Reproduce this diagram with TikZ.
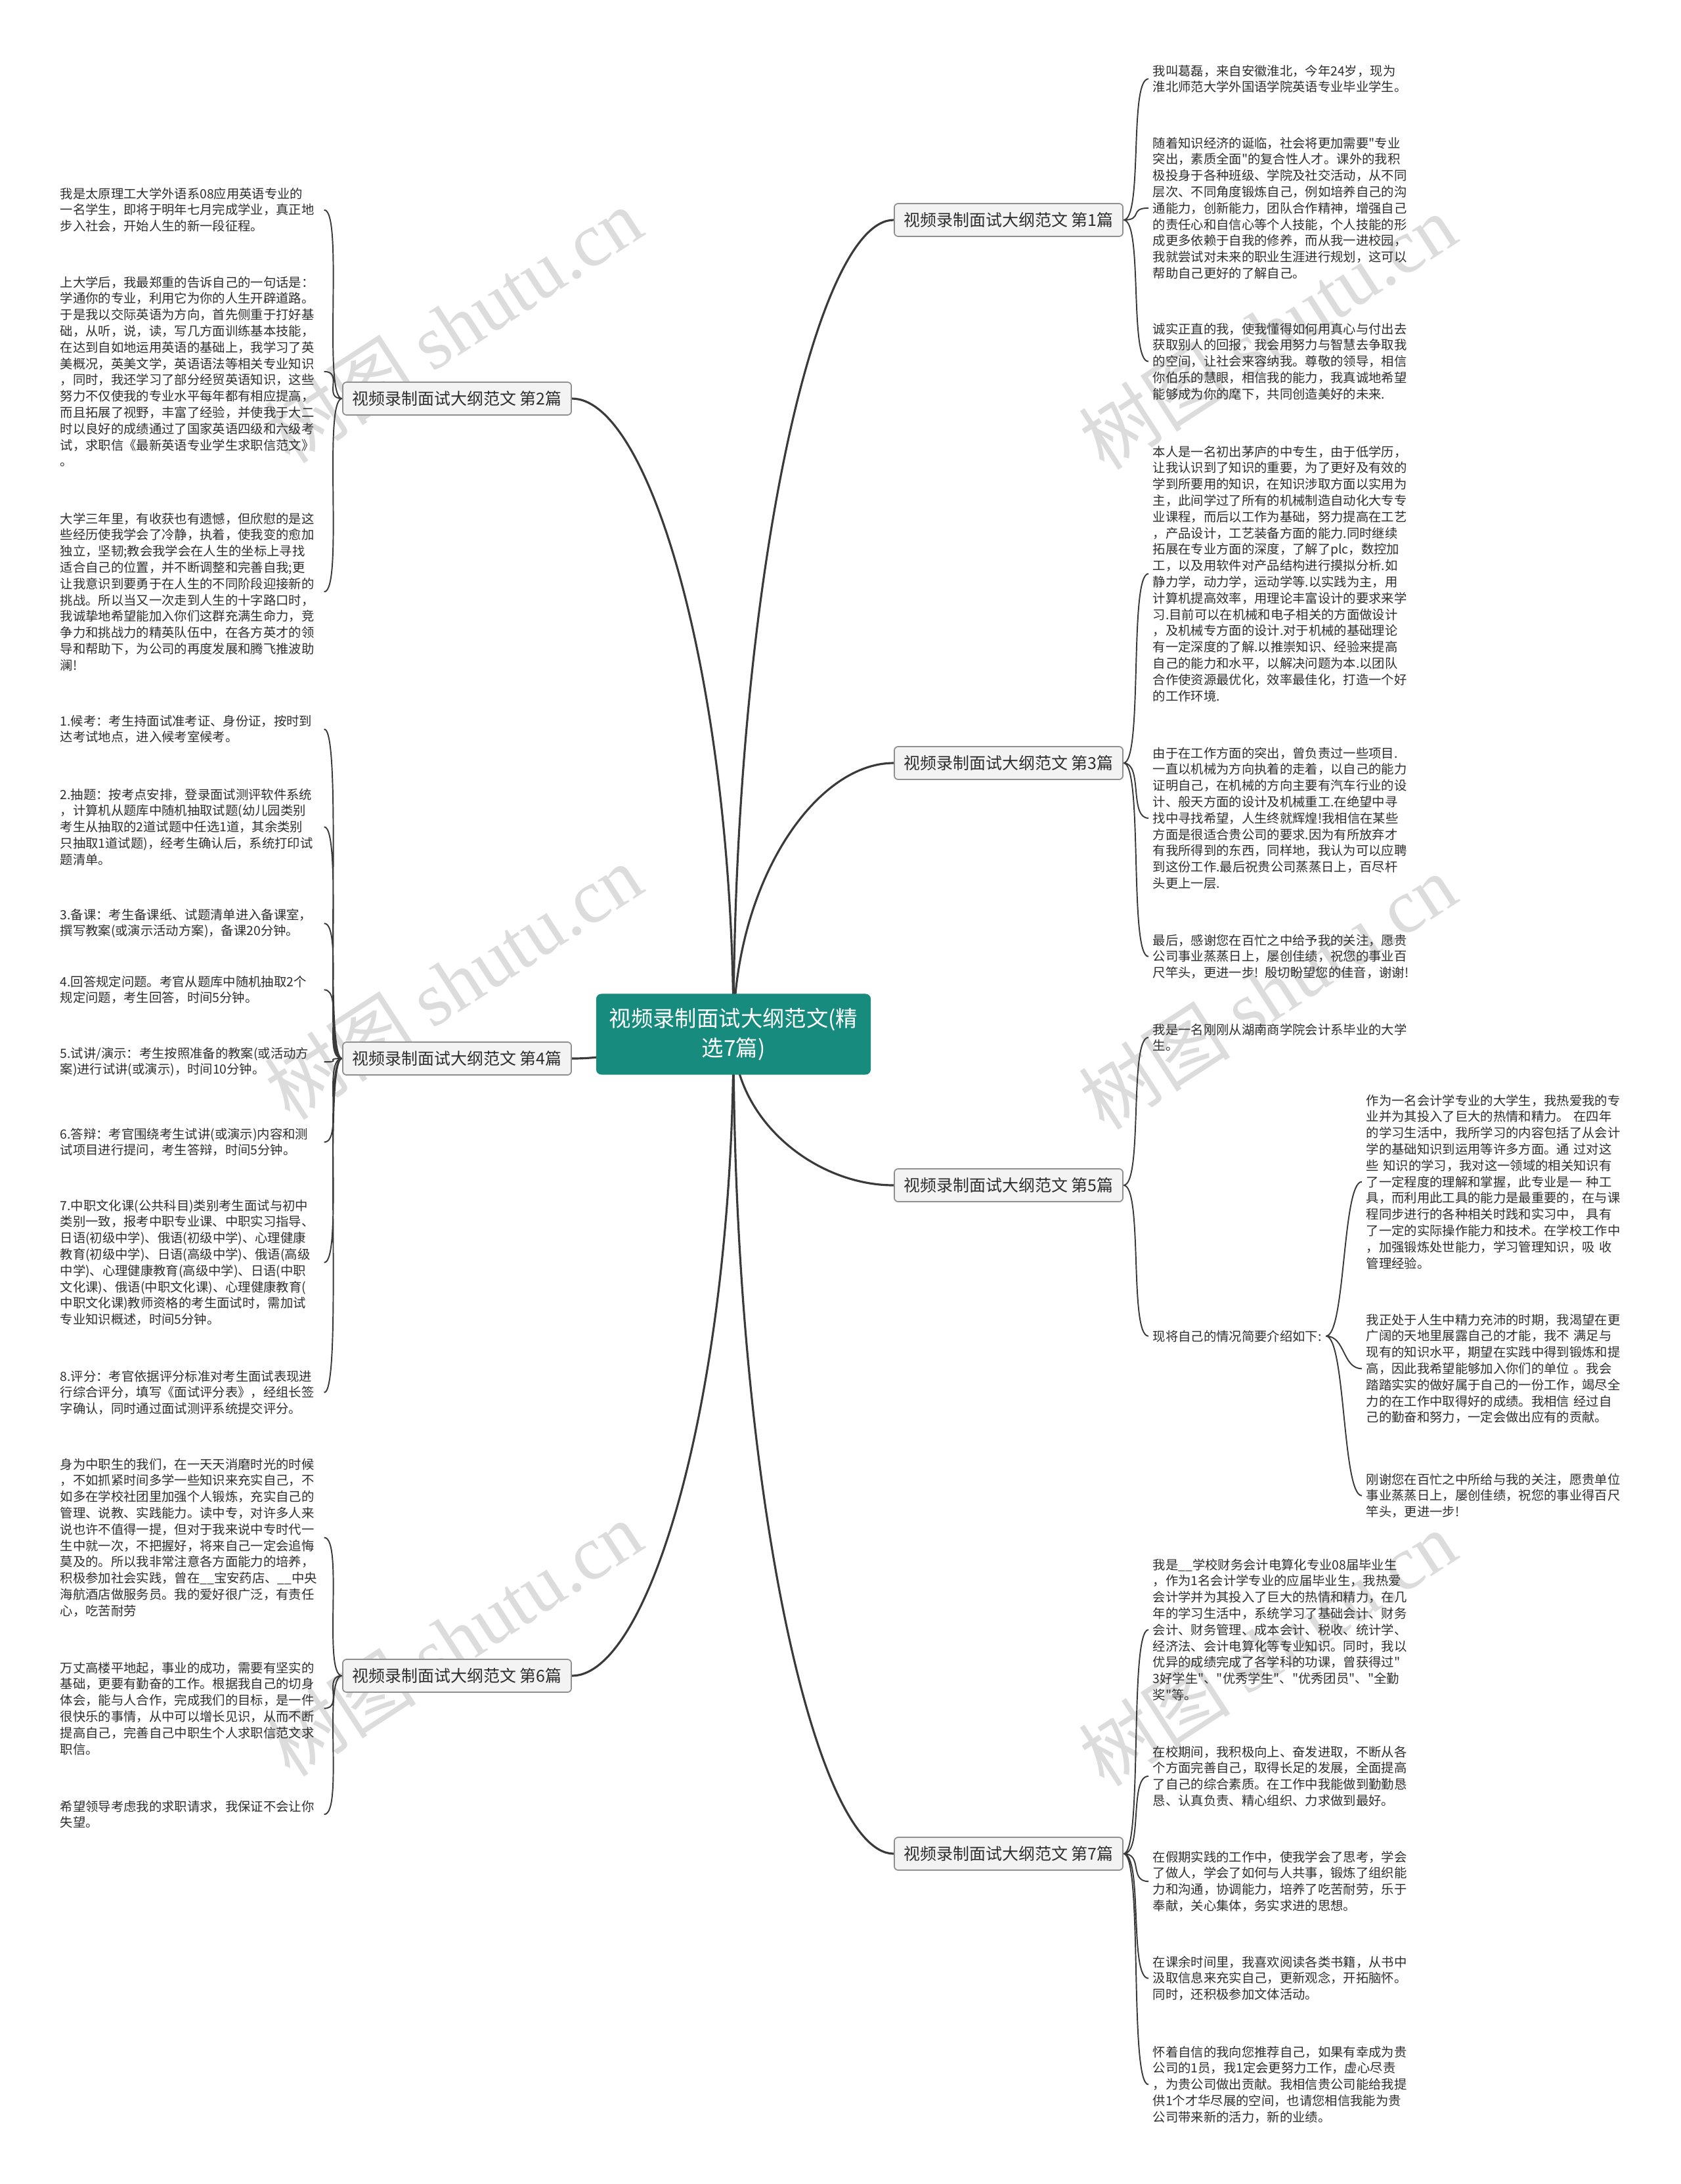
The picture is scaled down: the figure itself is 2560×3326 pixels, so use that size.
\documentclass[tikz,border=0pt]{standalone}
\usepackage{fontspec}
\setmainfont{Noto Sans CJK SC}
\newfontfamily\markfont{Liberation Serif}
\newfontfamily\plainfont{Noto Sans CJK SC}
\usetikzlibrary{backgrounds}
\definecolor{Lagoon}{HTML}{178B7D}
\definecolor{Wire}{HTML}{3A3A3A}
\definecolor{Type}{HTML}{2E2E2E}
\definecolor{Mist}{HTML}{F3F3F3}
\definecolor{Rim}{HTML}{8F8F8F}
\definecolor{Stamp}{HTML}{DCDCDC}
\newcommand\leaffont{\fontsize{5.5pt}{7.05pt}\selectfont}
\newcommand\topicfont{\fontsize{7.1pt}{8.5pt}\selectfont}
\newcommand\rootfont{\fontsize{9.5pt}{12.6pt}\selectfont}
\newcommand\dq{{\plainfont"}}
\tikzset{
  rootbox/.style={fill=Lagoon,draw=none,text=white,rounded corners=0.08cm,font=\rootfont,minimum width=4.18cm,minimum height=1.23cm,align=center,inner sep=2pt},
  topic/.style={draw=Rim,fill=Mist,line width=.5pt,rounded corners=0.06cm,font=\topicfont,text=Type,minimum width=3.48cm,minimum height=0.5cm,inner xsep=0.1cm,inner ysep=1pt},
  leaf/.style={font=\leaffont,text=Type,text width=3.95cm,align=left,inner xsep=0.06cm,inner ysep=0pt,anchor=north west},
  aside/.style={font=\leaffont,text=Type,inner xsep=0.06cm,inner ysep=0pt,anchor=north west},
  trunk/.style={draw=Wire,line width=.9pt},
  twig/.style={draw=Wire,line width=.55pt},
  rtwig/.style={out=0,in=180,distance=0.3cm},
  ltwig/.style={out=180,in=0,distance=0.3cm},
  stamp/.style={text=Stamp,rotate=33,font=\fontsize{33pt}{33pt}\selectfont,inner sep=0pt}
}
\begin{document}
\begin{tikzpicture}[x=0.01cm,y=0.01cm]
\useasboundingbox (0,0) rectangle (2560,-3326);

% root and topics
\node[rootbox] (root) at (1117,-1575) {视频录制面试大纲范文(精\\选7篇)};
\node[topic] (t1) at (1536,-335) {视频录制面试大纲范文 第1篇};
\node[topic] (t2) at (696,-607) {视频录制面试大纲范文 第2篇};
\node[topic] (t3) at (1536,-1162) {视频录制面试大纲范文 第3篇};
\node[topic] (t4) at (696,-1612) {视频录制面试大纲范文 第4篇};
\node[topic] (t5) at (1536,-1805) {视频录制面试大纲范文 第5篇};
\node[topic] (t6) at (696,-2552) {视频录制面试大纲范文 第6篇};
\node[topic] (t7) at (1536,-2823) {视频录制面试大纲范文 第7篇};

% 第1篇
\node[leaf] (s1a) at (1749,-98) {我叫葛磊，来自安徽淮北，今年24岁，现为\\淮北师范大学外国语学院英语专业毕业学生。};
\node[leaf] (s1b) at (1749,-208) {随着知识经济的诞临，社会将更加需要\dq 专业\\突出，素质全面\dq 的复合性人才。课外的我积\\极投身于各种班级、学院及社交活动，从不同\\层次、不同角度锻炼自己，例如培养自己的沟\\通能力，创新能力，团队合作精神，增强自己\\的责任心和自信心等个人技能，个人技能的形\\成更多依赖于自我的修养，而从我一进校园，\\我就尝试对未来的职业生涯进行规划，这可以\\帮助自己更好的了解自己。};
\node[leaf] (s1c) at (1749,-491) {诚实正直的我，使我懂得如何用真心与付出去\\获取别人的回报，我会用努力与智慧去争取我\\的空间，让社会来容纳我。尊敬的领导，相信\\你伯乐的慧眼，相信我的能力，我真诚地希望\\能够成为你的麾下，共同创造美好的未来.};

% 第2篇
\node[leaf] (s2a) at (85,-285) {我是太原理工大学外语系08应用英语专业的\\一名学生，即将于明年七月完成学业，真正地\\步入社会，开始人生的新一段征程。};
\node[leaf] (s2b) at (85,-420) {上大学后，我最郑重的告诉自己的一句话是：\\学通你的专业，利用它为你的人生开辟道路。\\于是我以交际英语为方向，首先侧重于打好基\\础，从听，说，读，写几方面训练基本技能，\\在达到自如地运用英语的基础上，我学习了英\\美概况，英美文学，英语语法等相关专业知识\\，同时，我还学习了部分经贸英语知识，这些\\努力不仅使我的专业水平每年都有相应提高，\\而且拓展了视野，丰富了经验，并使我于大二\\时以良好的成绩通过了国家英语四级和六级考\\试，求职信《最新英语专业学生求职信范文》\\。};
\node[leaf] (s2c) at (85,-780) {大学三年里，有收获也有遗憾，但欣慰的是这\\些经历使我学会了冷静，执着，使我变的愈加\\独立，坚韧;教会我学会在人生的坐标上寻找\\适合自己的位置，并不断调整和完善自我;更\\让我意识到要勇于在人生的不同阶段迎接新的\\挑战。所以当又一次走到人生的十字路口时，\\我诚挚地希望能加入你们这群充满生命力，竞\\争力和挑战力的精英队伍中，在各方英才的领\\导和帮助下，为公司的再度发展和腾飞推波助\\澜!};

% 第3篇
\node[leaf] (s3a) at (1749,-678) {本人是一名初出茅庐的中专生，由于低学历，\\让我认识到了知识的重要，为了更好及有效的\\学到所要用的知识，在知识涉取方面以实用为\\主，此间学过了所有的机械制造自动化大专专\\业课程，而后以工作为基础，努力提高在工艺\\，产品设计，工艺装备方面的能力.同时继续\\拓展在专业方面的深度，了解了plc，数控加\\工，以及用软件对产品结构进行摸拟分析.如\\静力学，动力学，运动学等.以实践为主，用\\计算机提高效率，用理论丰富设计的要求来学\\习.目前可以在机械和电子相关的方面做设计\\，及机械专方面的设计.对于机械的基础理论\\有一定深度的了解.以推崇知识、经验来提高\\自己的能力和水平，以解决问题为本.以团队\\合作使资源最优化，效率最佳化，打造一个好\\的工作环境.};
\node[leaf] (s3b) at (1749,-1137) {由于在工作方面的突出，曾负责过一些项目.\\一直以机械为方向执着的走着，以自己的能力\\证明自己，在机械的方向主要有汽车行业的设\\计、般天方面的设计及机械重工.在绝望中寻\\找中寻找希望，人生终就辉煌!我相信在某些\\方面是很适合贵公司的要求.因为有所放弃才\\有我所得到的东西，同样地，我认为可以应聘\\到这份工作.最后祝贵公司蒸蒸日上，百尽杆\\头更上一层.};
\node[leaf] (s3c) at (1749,-1422) {最后，感谢您在百忙之中给予我的关注，愿贵\\公司事业蒸蒸日上，屡创佳绩，祝您的事业百\\尺竿头，更进一步! 殷切盼望您的佳音，谢谢!};

% 第4篇
\node[leaf] (s4a) at (85,-1088) {1.候考：考生持面试准考证、身份证，按时到\\达考试地点，进入候考室候考。};
\node[leaf] (s4b) at (85,-1200) {2.抽题：按考点安排，登录面试测评软件系统\\，计算机从题库中随机抽取试题(幼儿园类别\\考生从抽取的2道试题中任选1道，其余类别\\只抽取1道试题)，经考生确认后，系统打印试\\题清单。};
\node[leaf] (s4c) at (85,-1383) {3.备课：考生备课纸、试题清单进入备课室，\\撰写教案(或演示活动方案)，备课20分钟。};
\node[leaf] (s4d) at (85,-1485) {4.回答规定问题。考官从题库中随机抽取2个\\规定问题，考生回答，时间5分钟。};
\node[leaf] (s4e) at (85,-1594) {5.试讲/演示：考生按照准备的教案(或活动方\\案)进行试讲(或演示)，时间10分钟。};
\node[leaf] (s4f) at (85,-1717) {6.答辩：考官围绕考生试讲(或演示)内容和测\\试项目进行提问，考生答辩，时间5分钟。};
\node[leaf] (s4g) at (85,-1826) {7.中职文化课(公共科目)类别考生面试与初中\\类别一致，报考中职专业课、中职实习指导、\\日语(初级中学)、俄语(初级中学)、心理健康\\教育(初级中学)、日语(高级中学)、俄语(高级\\中学)、心理健康教育(高级中学)、日语(中职\\文化课)、俄语(中职文化课)、心理健康教育(\\中职文化课)教师资格的考生面试时，需加试\\专业知识概述，时间5分钟。};
\node[leaf] (s4h) at (85,-2086) {8.评分：考官依据评分标准对考生面试表现进\\行综合评分，填写《面试评分表》，经组长签\\字确认，同时通过面试测评系统提交评分。};

% 第5篇
\node[leaf] (s5a) at (1749,-1558) {我是一名刚刚从湖南商学院会计系毕业的大学\\生。};
\node[aside] (s5b) at (1749,-2025) {现将自己的情况简要介绍如下:};
\node[leaf] (s5c) at (2074,-1666) {作为一名会计学专业的大学生，我热爱我的专\\业并为其投入了巨大的热情和精力。 在四年\\的学习生活中，我所学习的内容包括了从会计\\学的基础知识到运用等许多方面。通 过对这\\些 知识的学习，我对这一领域的相关知识有\\了一定程度的理解和掌握，此专业是一 种工\\具，而利用此工具的能力是最重要的，在与课\\程同步进行的各种相关时践和实习中， 具有\\了一定的实际操作能力和技术。在学校工作中\\，加强锻炼处世能力，学习管理知识，吸 收\\管理经验。};
\node[leaf] (s5d) at (2074,-2000) {我正处于人生中精力充沛的时期，我渴望在更\\广阔的天地里展露自己的才能，我不 满足与\\现有的知识水平，期望在实践中得到锻炼和提\\高，因此我希望能够加入你们的单位 。我会\\踏踏实实的做好属于自己的一份工作，竭尽全\\力的在工作中取得好的成绩。我相信 经过自\\己的勤奋和努力，一定会做出应有的贡献。};
\node[leaf] (s5e) at (2074,-2243) {刚谢您在百忙之中所给与我的关注，愿贵单位\\事业蒸蒸日上，屡创佳绩，祝您的事业得百尺\\竿头，更进一步!};

% 第6篇
\node[leaf] (s6a) at (85,-2220) {身为中职生的我们，在一天天消磨时光的时候\\，不如抓紧时间多学一些知识来充实自己，不\\如多在学校社团里加强个人锻炼，充实自己的\\管理、说教、实践能力。读中专，对许多人来\\说也许不值得一提，但对于我来说中专时代一\\生中就一次，不把握好，将来自己一定会追悔\\莫及的。所以我非常注意各方面能力的培养，\\积极参加社会实践，曾在\_\_宝安药店、\_\_中央\\海航酒店做服务员。我的爱好很广泛，有责任\\心，吃苦耐劳};
\node[leaf] (s6b) at (85,-2530) {万丈高楼平地起，事业的成功，需要有坚实的\\基础，更要有勤奋的工作。根据我自己的切身\\体会，能与人合作，完成我们的目标，是一件\\很快乐的事情，从中可以增长见识，从而不断\\提高自己，完善自己中职生个人求职信范文求\\职信。};
\node[leaf] (s6c) at (85,-2741) {希望领导考虑我的求职请求，我保证不会让你\\失望。};

% 第7篇
\node[leaf] (s7a) at (1749,-2373) {我是\_\_学校财务会计电算化专业08届毕业生\\，作为1名会计学专业的应届毕业生，我热爱\\会计学并为其投入了巨大的热情和精力，在几\\年的学习生活中，系统学习了基础会计、财务\\会计、财务管理、成本会计、税收、统计学、\\经济法、会计电算化等专业知识。同时，我以\\优异的成绩完成了各学科的功课，曾获得过\dq\\3好学生\dq、\dq 优秀学生\dq、\dq 优秀团员\dq、\dq 全勤\\奖\dq 等。};
\node[leaf] (s7b) at (1749,-2658) {在校期间，我积极向上、奋发进取，不断从各\\个方面完善自己，取得长足的发展，全面提高\\了自己的综合素质。在工作中我能做到勤勤恳\\恳、认真负责、精心组织、力求做到最好。};
\node[leaf] (s7c) at (1749,-2818) {在假期实践的工作中，使我学会了思考，学会\\了做人，学会了如何与人共事，锻炼了组织能\\力和沟通，协调能力，培养了吃苦耐劳，乐于\\奉献，关心集体，务实求进的思想。};
\node[leaf] (s7d) at (1749,-2978) {在课余时间里，我喜欢阅读各类书籍，从书中\\汲取信息来充实自己，更新观念，开拓脑怀。\\同时，还积极参加文体活动。};
\node[leaf] (s7e) at (1749,-3115) {怀着自信的我向您推荐自己，如果有幸成为贵\\公司的1员，我1定会更努力工作，虚心尽责\\，为贵公司做出贡献。我相信贵公司能给我提\\供1个才华尽展的空间，也请您相信我能为贵\\公司带来新的活力，新的业绩。};

\begin{scope}[on background layer]
  \fill[white] (0,0) rectangle (2560,-3326);
  \foreach \mx/\my in {690/495,1930/505,690/1495,1930/1510,690/2495,1930/2510}
    \node[stamp] (mark\mx-\my) at (\mx,-\my) {树图 {\markfont shutu.cn}};
  % trunk curves
  \draw[trunk] (root.center) to[out=90,in=180,out distance=6.8cm,in distance=1.2cm] (t1.west);
  \draw[trunk] (root.center) to[out=90,in=180,out distance=2.3cm,in distance=1.2cm] (t3.west);
  \draw[trunk] (root.center) to[out=-90,in=180,out distance=1.3cm,in distance=1.2cm] (t5.west);
  \draw[trunk] (root.center) to[out=-90,in=180,out distance=6.9cm,in distance=1.2cm] (t7.west);
  \draw[trunk] (root.center) to[out=90,in=0,out distance=5.3cm,in distance=1.2cm] (t2.east);
  \draw[trunk] (root.center) to[out=180,in=0,distance=1cm] (t4.east);
  \draw[trunk] (root.center) to[out=-90,in=0,out distance=5.4cm,in distance=1.2cm] (t6.east);
  % twigs
  \draw[twig] (t1.east) to[rtwig] (s1a.west) (t1.east) to[rtwig] (s1b.west) (t1.east) to[rtwig] (s1c.west);
  \draw[twig] (t3.east) to[rtwig] (s3a.west) (t3.east) to[rtwig] (s3b.west) (t3.east) to[rtwig] (s3c.west);
  \draw[twig] (t5.east) to[rtwig] (s5a.west) (t5.east) to[rtwig] (s5b.west);
  \draw[twig] (s5b.east) to[rtwig] (s5c.west) (s5b.east) to[rtwig] (s5d.west) (s5b.east) to[rtwig] (s5e.west);
  \draw[twig] (t7.east) to[rtwig] (s7a.west) (t7.east) to[rtwig] (s7b.west) (t7.east) to[rtwig] (s7c.west)
              (t7.east) to[rtwig] (s7d.west) (t7.east) to[rtwig] (s7e.west);
  \draw[twig] (t2.west) to[ltwig] (s2a.east) (t2.west) to[ltwig] (s2b.east) (t2.west) to[ltwig] (s2c.east);
  \draw[twig] (t4.west) to[ltwig] (s4a.east) (t4.west) to[ltwig] (s4b.east) (t4.west) to[ltwig] (s4c.east)
              (t4.west) to[ltwig] (s4d.east) (t4.west) to[ltwig] (s4e.east) (t4.west) to[ltwig] (s4f.east)
              (t4.west) to[ltwig] (s4g.east) (t4.west) to[ltwig] (s4h.east);
  \draw[twig] (t6.west) to[ltwig] (s6a.east) (t6.west) to[ltwig] (s6b.east) (t6.west) to[ltwig] (s6c.east);
\end{scope}
\end{tikzpicture}
\end{document}
